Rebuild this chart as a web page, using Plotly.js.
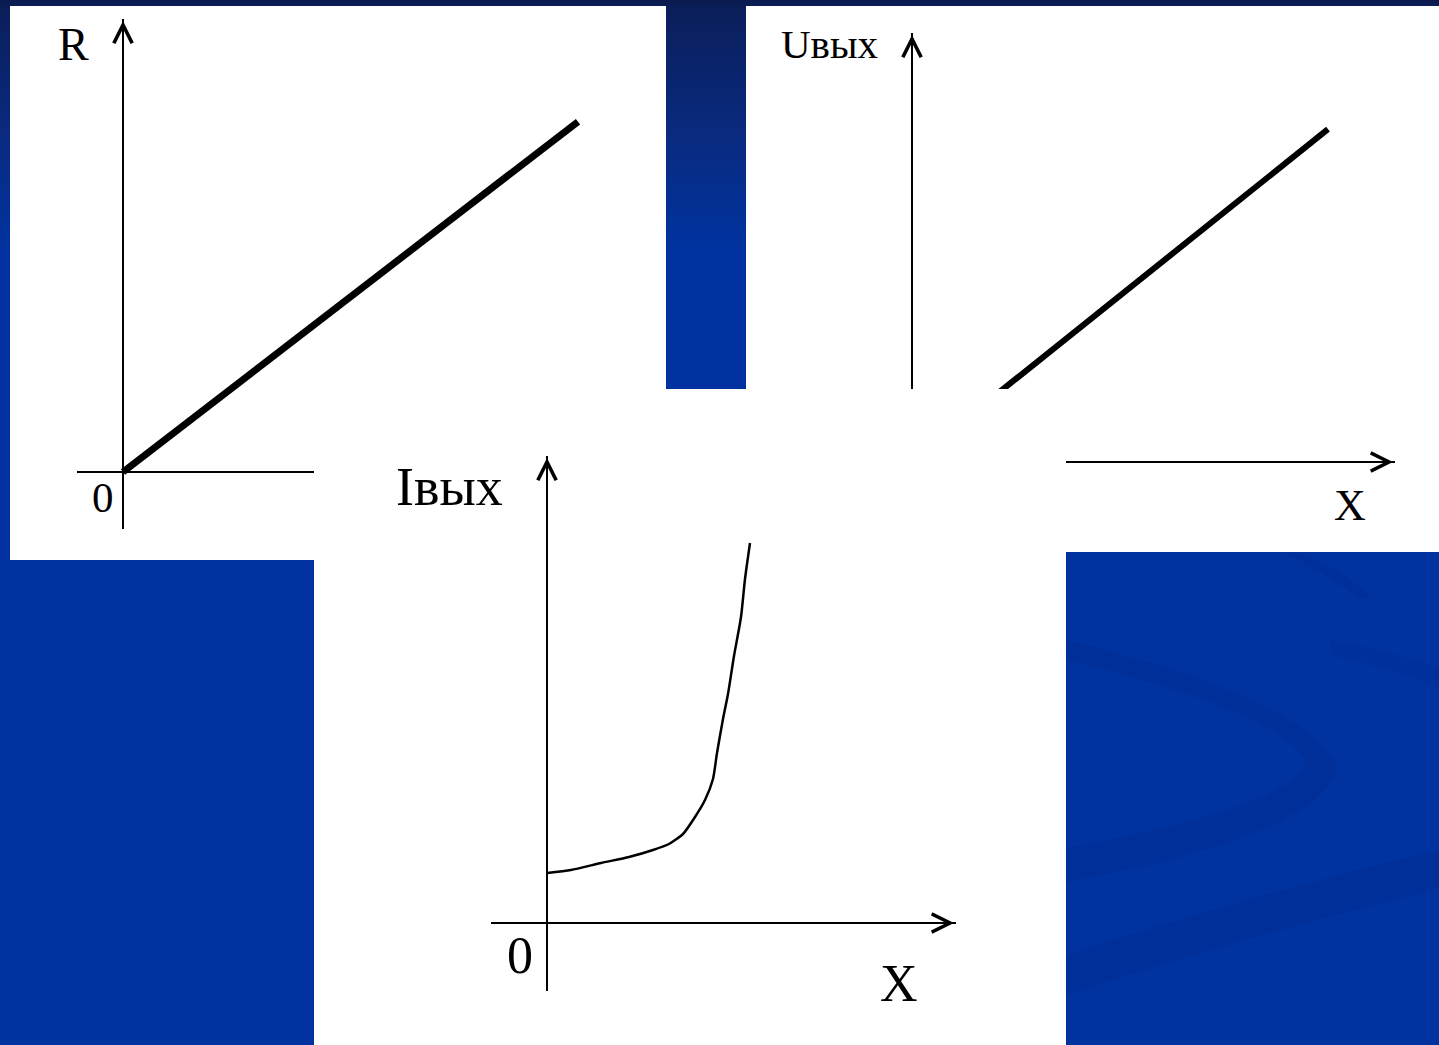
<!DOCTYPE html>
<html>
<head>
<meta charset="utf-8">
<script src="https://cdn.plot.ly/plotly-3.0.1.min.js"></script>
<style>
  html, body { margin: 0; padding: 0; background: #0033a0; }
  #chart {
    width: 1439px; height: 1045px;
    background: linear-gradient(to bottom, #0a1a4e 0px, #0a1e5a 8px, #0a2a7e 130px, #0033a0 250px, #0033a0 100%);
  }
</style>
</head>
<body>
<div id="chart"></div>
<script>
// ---------------- DATA ----------------
// Panel A: R as a function of I (linear)
const currentA = [0, 10];
const resistanceA = [0, 7.7];
// Panel B: Uвых as a function of X (linear)
const displacementB = [0, 10];
const voltageB = [0, 8.0];
// Panel C: Iвых as a function of X (steep rise)
const displacementC = [0, 1.2, 2.7, 4.1, 5.3, 6.1, 6.8, 7.4, 7.9, 8.3, 8.5, 8.8, 9.05, 9.35, 9.7, 9.9, 10.15];
const currentC      = [2.5, 2.65, 3.0, 3.3, 3.65, 3.95, 4.45, 5.3, 6.15, 7.2, 8.5, 10.2, 11.45, 13.35, 15.3, 17.2, 19.0];
// Axis labels
const labelsA = ['R', '0'];
const labelsB = ['Uвых', 'X'];
const labelsC = ['Iвых', '0', 'X'];

// ---------------- LAYOUT HELPERS ----------------
const W = 1439, H = 1045;
const px = x => x / W;
const py = y => 1 - y / H;
const xdom = (a, b) => [a / W, b / W];
const ydom = (top, bottom) => [1 - bottom / H, 1 - top / H];

function baseAxis(extra) {
  return Object.assign({
    type: 'linear', showgrid: false, showticklabels: false, ticks: '',
    showline: false, fixedrange: true, zeroline: false
  }, extra);
}
// axes subplot: pixel box, origin pixel and px-per-unit scale
function axesPair(box, origin, scale, xa, ya) {
  const xr = [(box.x0 - origin.x) / scale, (box.x1 - origin.x) / scale];
  const yr = [(origin.y - box.y1) / scale, (origin.y - box.y0) / scale];
  return {
    x: baseAxis({domain: xdom(box.x0, box.x1), range: xr, anchor: ya, zeroline: true, zerolinecolor: '#000', zerolinewidth: 2}),
    y: baseAxis({domain: ydom(box.y0, box.y1), range: yr, anchor: xa, zeroline: true, zerolinecolor: '#000', zerolinewidth: 2}),
    toX: p => (p - origin.x) / scale,
    toY: p => (origin.y - p) / scale
  };
}
function bgPair(x0, x1, y0, y1, xa, ya) {
  return {
    x: baseAxis({domain: xdom(x0, x1), range: [0, 1], anchor: ya}),
    y: baseAxis({domain: ydom(y0, y1), range: [0, 1], anchor: xa})
  };
}

// white panels
const bgA = bgPair(10, 666, 6, 560, 'x', 'y');
const bgB = bgPair(746, 1439, 6, 552, 'x3', 'y3');
const bgC = bgPair(314, 1066, 389, 1045, 'x5', 'y5');
// drawing axes
const axA = axesPair({x0: 77, x1: 640, y0: 19, y1: 529}, {x: 123, y: 472}, 45.5, 'x2', 'y2');
const axB = axesPair({x0: 880, x1: 1395, y0: 33, y1: 500}, {x: 912, y: 462}, 41.6, 'x4', 'y4');
const axC = axesPair({x0: 491, x1: 956, y0: 456, y1: 991}, {x: 547, y: 923}, 20, 'x6', 'y6');

const empty = (xa, ya) => ({type: 'scatter', x: [], y: [], xaxis: xa, yaxis: ya, hoverinfo: 'skip', showlegend: false});

const traces = [
  empty('x', 'y'),
  {type: 'scatter', mode: 'lines', x: currentA, y: resistanceA, xaxis: 'x2', yaxis: 'y2',
   line: {color: '#000', width: 7}, hoverinfo: 'skip', showlegend: false},
  empty('x3', 'y3'),
  {type: 'scatter', mode: 'lines', x: displacementB, y: voltageB, xaxis: 'x4', yaxis: 'y4',
   line: {color: '#000', width: 6}, hoverinfo: 'skip', showlegend: false},
  empty('x5', 'y5'),
  {type: 'scatter', mode: 'lines', x: displacementC, y: currentC, xaxis: 'x6', yaxis: 'y6',
   line: {color: '#000', width: 2.5, shape: 'spline', smoothing: 0.6}, hoverinfo: 'skip', showlegend: false}
];

// arrow heads on the axes
function arrowUp(ax, xa, ya, tipPx) {
  return {xref: xa, yref: ya, x: 0, y: ax.toY(tipPx), ax: 0, ay: 30, text: '', showarrow: true,
          arrowhead: 5, arrowsize: 1.8, arrowwidth: 2, arrowcolor: '#000', standoff: 0};
}
function arrowRight(ax, xa, ya, tipPx) {
  return {xref: xa, yref: ya, x: ax.toX(tipPx), y: 0, ax: -30, ay: 0, text: '', showarrow: true,
          arrowhead: 5, arrowsize: 1.8, arrowwidth: 2, arrowcolor: '#000', standoff: 0};
}
const serif = 'Liberation Serif, Times New Roman, serif';
function label(text, cx, cy, size) {
  return {xref: 'paper', yref: 'paper', x: px(cx), y: py(cy), xanchor: 'center', yanchor: 'middle',
          text: text, showarrow: false, font: {family: serif, size: size, color: '#000'}};
}

const annotations = [
  arrowUp(axA, 'x2', 'y2', 21),
  arrowUp(axB, 'x4', 'y4', 35),
  arrowRight(axB, 'x4', 'y4', 1393),
  arrowUp(axC, 'x6', 'y6', 458),
  arrowRight(axC, 'x6', 'y6', 954),
  label(labelsA[0], 73, 44, 46),
  label(labelsA[1], 103, 497, 43),
  label(labelsB[0], 829, 44, 41),
  label(labelsB[1], 1350, 506, 44),
  label(labelsC[0], 450, 487, 54),
  label(labelsC[1], 520, 955, 52),
  label(labelsC[2], 899, 983, 52)
];

// subtle background swooshes (decoration, paper coordinates)
const P = (x, y) => px(x).toFixed(5) + ',' + py(y).toFixed(5);
const swooshFill = 'rgba(0,20,100,0.11)';
const shapes = [
  {type: 'path', xref: 'paper', yref: 'paper', layer: 'below', line: {width: 0}, fillcolor: swooshFill,
   path: 'M' + P(1066, 640) + ' Q' + P(1310, 700) + ' ' + P(1338, 768) + ' Q' + P(1320, 835) + ' ' + P(1066, 882) +
         ' L' + P(1066, 848) + ' Q' + P(1300, 805) + ' ' + P(1305, 760) + ' Q' + P(1280, 712) + ' ' + P(1066, 660) + ' Z'},
  {type: 'path', xref: 'paper', yref: 'paper', layer: 'below', line: {width: 0}, fillcolor: swooshFill,
   path: 'M' + P(1066, 955) + ' Q' + P(1250, 895) + ' ' + P(1439, 850) + ' L' + P(1439, 888) +
         ' Q' + P(1250, 935) + ' ' + P(1066, 995) + ' Z'},
  {type: 'path', xref: 'paper', yref: 'paper', layer: 'below', line: {width: 0}, fillcolor: swooshFill,
   path: 'M' + P(1300, 553) + ' Q' + P(1345, 570) + ' ' + P(1372, 598) + ' L' + P(1358, 598) +
         ' Q' + P(1330, 575) + ' ' + P(1285, 553) + ' Z'},
  {type: 'path', xref: 'paper', yref: 'paper', layer: 'below', line: {width: 0}, fillcolor: 'rgba(0,20,100,0.07)',
   path: 'M' + P(1330, 640) + ' Q' + P(1390, 650) + ' ' + P(1439, 668) + ' L' + P(1439, 688) +
         ' Q' + P(1390, 668) + ' ' + P(1330, 655) + ' Z'}
];

const layout = {
  width: W, height: H,
  margin: {l: 0, r: 0, t: 0, b: 0, pad: 0},
  paper_bgcolor: 'rgba(0,0,0,0)',
  plot_bgcolor: '#ffffff',
  showlegend: false,
  xaxis: bgA.x, yaxis: bgA.y,
  xaxis2: axA.x, yaxis2: axA.y,
  xaxis3: bgB.x, yaxis3: bgB.y,
  xaxis4: axB.x, yaxis4: axB.y,
  xaxis5: bgC.x, yaxis5: bgC.y,
  xaxis6: axC.x, yaxis6: axC.y,
  annotations: annotations,
  shapes: shapes
};

Plotly.newPlot('chart', traces, layout, {staticPlot: true, displayModeBar: false});
</script>
</body>
</html>
